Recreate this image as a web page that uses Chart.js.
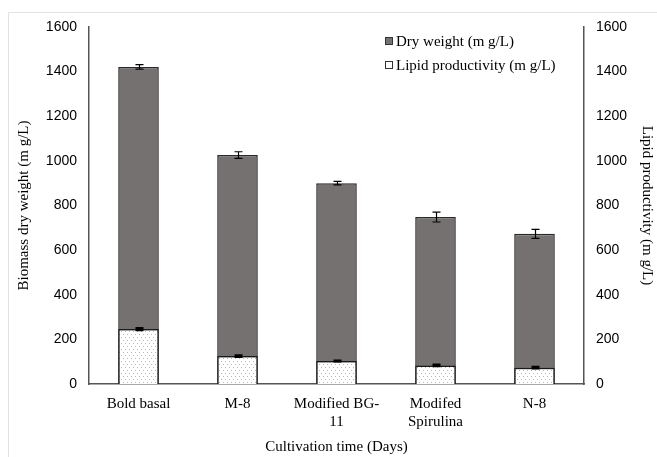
<!DOCTYPE html>
<html>
<head>
<meta charset="utf-8">
<script src="https://cdn.jsdelivr.net/npm/chart.js@4/dist/chart.umd.min.js"></script>
<style>
  html, body { margin: 0; padding: 0; background: #fff; }
  #wrap { width: 657px; height: 457px; position: relative; }
</style>
</head>
<body>
<div id="wrap"><canvas id="c" width="657" height="457"></canvas></div>
<script>
// Culture media
const categories = ['Bold basal', 'M-8', ['Modified BG-', '11'], ['Modifed', 'Spirulina'], 'N-8'];
// Biomass dry weight (mg/L) and standard deviation
const dryWeight = [1421, 1026, 900, 748, 673];
const dryWeightErr = [10, 15, 8, 22, 20];
// Lipid productivity (mg/L) and standard deviation
const lipidProd = [246, 125, 103, 83, 73];
const lipidProdErr = [5, 4, 2, 4, 4];
// Shared axis ticks
const axisMax = 1600;
const axisStep = 200;

const serif = '"Liberation Serif", "Times New Roman", serif';
const sans = '"Liberation Sans", Arial, sans-serif';

// Dotted fill for the lipid bars
function dotPattern() {
  const p = document.createElement('canvas');
  p.width = 4; p.height = 6;
  const g = p.getContext('2d');
  g.fillStyle = '#ffffff';
  g.fillRect(0, 0, 4, 6);
  g.fillStyle = '#b8b8b8';
  g.fillRect(1, 1, 1, 1);
  g.fillRect(3, 4, 1, 1);
  return g.createPattern(p, 'repeat');
}
const dots = dotPattern();

// Frame lines along the top and left edges
const framePlugin = {
  id: 'frame',
  beforeDraw(chart) {
    const ctx = chart.ctx;
    ctx.save();
    ctx.fillStyle = '#fff';
    ctx.fillRect(0, 0, chart.width, chart.height);
    ctx.strokeStyle = '#e2e2e2';
    ctx.lineWidth = 1;
    ctx.beginPath();
    ctx.moveTo(8.5, chart.height);
    ctx.lineTo(8.5, 12.5);
    ctx.lineTo(chart.width, 12.5);
    ctx.stroke();
    ctx.restore();
  }
};

// Error bars drawn from each dataset's error array
const errorBarPlugin = {
  id: 'errorBars',
  afterDatasetsDraw(chart) {
    const ctx = chart.ctx;
    ctx.save();
    chart.data.datasets.forEach((ds, di) => {
      const meta = chart.getDatasetMeta(di);
      const scale = chart.scales[meta.yAxisID];
      ctx.strokeStyle = '#000';
      ctx.lineWidth = ds.errLineWidth || 1.2;
      meta.data.forEach((bar, i) => {
        const v = ds.data[i], e = ds.errors[i];
        const yTop = scale.getPixelForValue(v + e);
        const yBot = scale.getPixelForValue(v - e);
        const x = Math.round(bar.x) + 0.5;
        const hw = 4;
        ctx.beginPath();
        ctx.moveTo(x, yTop); ctx.lineTo(x, yBot);
        ctx.moveTo(x - hw, yTop); ctx.lineTo(x + hw, yTop);
        ctx.moveTo(x - hw, yBot); ctx.lineTo(x + hw, yBot);
        ctx.stroke();
      });
    });
    ctx.restore();
  }
};

// Legend drawn inside the plot area
const legendItems = [
  { text: 'Dry weight (m g/L)', fill: '#757170' },
  { text: 'Lipid productivity (m g/L)', fill: '#ffffff' }
];
const innerLegendPlugin = {
  id: 'innerLegend',
  afterDraw(chart) {
    const ctx = chart.ctx;
    ctx.save();
    ctx.font = '15px ' + serif;
    ctx.textBaseline = 'middle';
    const x0 = 385, y0 = 41, dy = 24;
    legendItems.forEach((it, i) => {
      const y = y0 + i * dy;
      ctx.fillStyle = it.fill;
      ctx.fillRect(x0, y - 4, 8, 8);
      ctx.strokeStyle = '#333';
      ctx.lineWidth = 1;
      ctx.strokeRect(x0 + 0.5, y - 3.5, 7, 7);
      ctx.fillStyle = '#000';
      ctx.fillText(it.text, x0 + 11, y + 1);
    });
    ctx.restore();
  }
};

const axisColor = '#555';
const plainNumber = v => String(v);

new Chart(document.getElementById('c'), {
  type: 'bar',
  data: {
    labels: categories,
    datasets: [
      {
        label: 'Dry weight (m g/L)',
        data: dryWeight,
        errors: dryWeightErr,
        yAxisID: 'y',
        backgroundColor: '#757170',
        borderColor: '#2a2a2a',
        borderWidth: 1.5,
        grouped: false,
        order: 2,
        barPercentage: 0.41,
        categoryPercentage: 1
      },
      {
        label: 'Lipid productivity (m g/L)',
        data: lipidProd,
        errors: lipidProdErr,
        errLineWidth: 2,
        yAxisID: 'y2',
        backgroundColor: dots,
        borderColor: '#1a1a1a',
        borderWidth: 1.5,
        grouped: false,
        order: 1,
        barPercentage: 0.41,
        categoryPercentage: 1
      }
    ]
  },
  options: {
    responsive: false,
    animation: false,
    devicePixelRatio: 1,
    layout: { padding: { top: 27, left: 0, right: 0, bottom: 0 } },
    plugins: {
      legend: { display: false },
      tooltip: { enabled: false }
    },
    scales: {
      x: {
        grid: { display: false, drawTicks: true, tickLength: 4, color: axisColor, offset: true },
        border: { display: true, color: axisColor, width: 1.5 },
        ticks: {
          color: '#000',
          font: { family: serif, size: 15 },
          padding: 7,
          maxRotation: 0,
          autoSkip: false
        },
        title: {
          display: true,
          text: 'Cultivation time (Days)',
          color: '#000',
          font: { family: serif, size: 15 },
          padding: { top: 0, bottom: 1 }
        },
        afterFit(s) { s.height = 73; }
      },
      y: {
        position: 'left',
        min: 0, max: axisMax,
        grid: { display: false, drawTicks: true, tickLength: 5, color: axisColor },
        border: { display: true, color: axisColor, width: 1.5 },
        ticks: {
          stepSize: axisStep,
          color: '#000',
          font: { family: sans, size: 14 },
          padding: 7,
          callback: plainNumber
        },
        title: {
          display: true,
          text: 'Biomass dry weight (m g/L)',
          color: '#000',
          font: { family: serif, size: 15 },
          padding: { top: 15, bottom: 0 }
        },
        afterFit(s) { s.width = 89; }
      },
      y2: {
        position: 'right',
        min: 0, max: axisMax,
        grid: { display: false, drawTicks: true, tickLength: 5, color: axisColor },
        border: { display: true, color: axisColor, width: 1.5 },
        ticks: {
          stepSize: axisStep,
          color: '#000',
          font: { family: sans, size: 14 },
          padding: 7,
          callback: plainNumber
        },
        title: {
          display: true,
          text: 'Lipid productivity (m g/L)',
          color: '#000',
          font: { family: serif, size: 15 },
          padding: { top: 1, bottom: 0 }
        },
        afterFit(s) { s.width = 73; }
      }
    }
  },
  plugins: [framePlugin, errorBarPlugin, innerLegendPlugin]
});
</script>
</body>
</html>
